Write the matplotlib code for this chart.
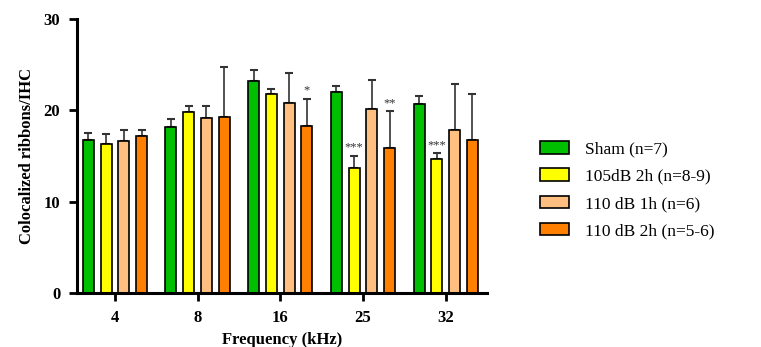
import matplotlib.pyplot as plt
import numpy as np

freqs = ['4', '8', '16', '25', '32']
groups = ['Sham (n=7)', '105dB 2h (n=8-9)', '110 dB 1h (n=6)', '110 dB 2h (n=5-6)']
colors = ['#00BF00', '#FFFF00', '#FFBF80', '#FF8000']

sham = [16.7, 18.2, 23.2, 22.05, 20.65]
sham_err = [0.8, 0.9, 1.25, 0.65, 0.95]
db105_2h = [16.35, 19.8, 21.8, 13.7, 14.7]
db105_2h_err = [1.1, 0.7, 0.5, 1.35, 0.6]
db110_1h = [16.6, 19.2, 20.85, 20.15, 17.8]
db110_1h_err = [1.3, 1.3, 3.2, 3.2, 5.1]
db110_2h = [17.15, 19.3, 18.25, 15.9, 16.7]
db110_2h_err = [0.75, 5.4, 3.0, 4.0, 5.1]

# significance marks: (group index, freq index, label)
stars = [(3, 2, '*'), (1, 3, '***'), (3, 3, '**'), (1, 4, '***')]

means = [sham, db105_2h, db110_1h, db110_2h]
errs = [sham_err, db105_2h_err, db110_1h_err, db110_2h_err]

plt.rcParams['font.family'] = ['Liberation Serif', 'DejaVu Serif']

fig = plt.figure(figsize=(7.61, 3.47), dpi=100)
ax = fig.add_axes([0.101, 0.156, 0.539, 0.789])

x = np.arange(len(freqs))
step = 0.2146
width = 0.133
for i in range(4):
    xs = x + (i - 1.5) * step
    ax.bar(xs, means[i], width, color=colors[i], edgecolor='black',
           linewidth=1.2, label=groups[i], zorder=2)
    ax.errorbar(xs, means[i], yerr=[np.zeros(len(freqs)), errs[i]], fmt='none',
                ecolor='#333333', elinewidth=1.2, capsize=3, capthick=1.5, zorder=1)

for gi, fi, lab in stars:
    xp = x[fi] + (gi - 1.5) * step
    yp = means[gi][fi] + errs[gi][fi]
    ax.text(xp, yp + 0.25, lab, ha='center', va='bottom', fontsize=9, color='#333333')

ax.set_xlim(-0.46, 4.5)
ax.set_ylim(0, 30)
ax.set_yticks([0, 10, 20, 30])
ax.set_xticks(x)
ax.set_xticklabels(freqs)
for sp in ['top', 'right']:
    ax.spines[sp].set_visible(False)
for sp in ['left', 'bottom']:
    ax.spines[sp].set_linewidth(2.2)
ax.tick_params(axis='both', width=2, length=6, labelsize=12, pad=6)
for t in ax.get_xticklabels() + ax.get_yticklabels():
    t.set_fontweight('bold')

ax.set_ylabel('Colocalized ribbons/IHC', fontsize=12, fontweight='bold', labelpad=6)
ax.set_xlabel('Frequency (kHz)', fontsize=12, fontweight='bold', labelpad=5)

fig.legend(loc='center left', bbox_to_anchor=(0.70, 0.452), frameon=False,
           fontsize=12.5, handlelength=1.7, handleheight=0.75, labelspacing=0.62,
           handletextpad=0.9, borderaxespad=0)

fig.savefig('out.png', dpi=100)
